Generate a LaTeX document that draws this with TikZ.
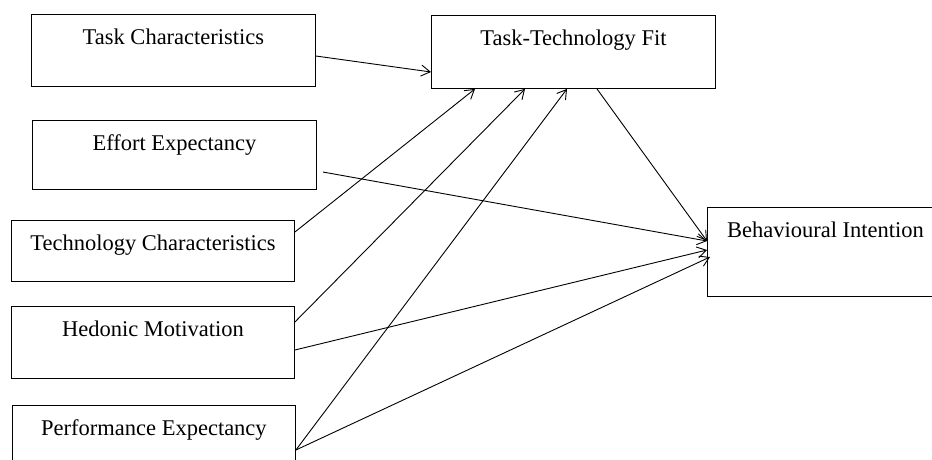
\documentclass[tikz,border=0pt]{standalone}
\usepackage{fontspec}
\setmainfont{Liberation Serif}
\usetikzlibrary{arrows.meta}

\tikzset{
  factor/.style={draw, rectangle, inner sep=0pt, anchor=north west, text height=30pt,
    font=\fontsize{22.5}{27}\selectfont},
}

\begin{document}
\begin{tikzpicture}[x=1pt, y=-1pt, line width=0.9pt, >={Straight Barb[length=9pt,width=11pt]}]
    \useasboundingbox (0,0) rectangle (932,459);

    \node[factor, minimum width=284pt, text depth=42pt] (tc) at (31,14) {Task Characteristics};
    \node[factor, minimum width=284pt, text depth=39pt] (ee) at (32,120) {Effort Expectancy};
    \node[factor, minimum width=283pt, text depth=31pt] (techc) at (11,220) {Technology Characteristics};
    \node[factor, minimum width=283pt, text depth=42pt] (hm) at (11,306) {Hedonic Motivation};
    \node[factor, minimum width=283pt, text depth=40pt] (pe) at (12,405) {Performance Expectancy};

    \node[factor, minimum width=284pt, text depth=43pt] (ttf) at (431,15) {Task-Technology Fit};
    \node[factor, minimum width=236pt, text depth=59pt] (bi) at (707,207) {Behavioural Intention};

    \draw[->] ([yshift=-42pt]tc.north east) -- ([yshift=-57pt]ttf.north west);
    \draw[->] ([yshift=-12pt]techc.north east) -- ([xshift=44pt]ttf.south west);
    \draw[->] ([yshift=-16pt]hm.north east) -- ([xshift=94pt]ttf.south west);
    \draw[->] ([yshift=-45pt]pe.north east) -- ([xshift=136pt]ttf.south west);

    \draw[->] ([xshift=166pt]ttf.south west) -- ([yshift=-34pt]bi.north west);
    \draw[->] ([xshift=6pt,yshift=-52pt]ee.north east) -- ([yshift=-34pt]bi.north west);
    \draw[->] ([yshift=-44pt]hm.north east) -- ([yshift=-43pt]bi.north west);
    \draw[->] ([yshift=-45pt]pe.north east) -- ([xshift=3pt,yshift=-50pt]bi.north west);
\end{tikzpicture}
\end{document}
